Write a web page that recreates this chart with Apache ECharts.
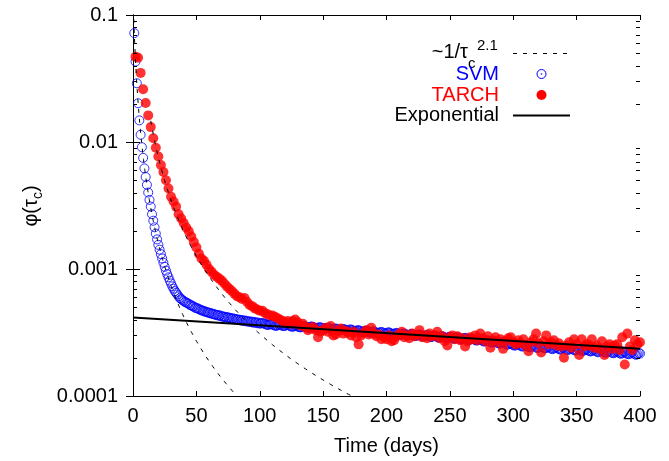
<!DOCTYPE html>
<html>
<head>
<meta charset="utf-8">
<script src="https://cdn.jsdelivr.net/npm/echarts/dist/echarts.min.js"></script>
<style>
  html, body { margin: 0; padding: 0; background: #fff; }
  #chart { width: 669px; height: 461px; }
</style>
</head>
<body>
<div id="chart"></div>
<script>
// Autocorrelation phi(tau_c) of the SVM and TARCH models versus lag in days.

// SVM: one value per day, starting at day 1
const svmFirstDay = 1, svmStep = 1;
const svmPhi = [
  7.2e-2, 4.3e-2, 2.9e-2, 2.02e-2, 1.48e-2, 1.14e-2, 9.1e-3, 7.5e-3, 6.2e-3, 5.3e-3,
  4.6e-3, 4.0e-3, 3.5e-3, 3.1e-3, 2.7e-3, 2.4e-3, 2.13e-3, 1.90e-3, 1.71e-3, 1.55e-3,
  1.42e-3, 1.31e-3, 1.21e-3, 1.12e-3, 1.04e-3, 9.7e-4, 9.1e-4, 8.6e-4, 8.1e-4, 7.7e-4,
  7.3e-4, 7.0e-4, 6.7e-4, 6.5e-4, 6.3e-4, 6.1e-4, 5.9e-4, 5.8e-4, 5.7e-4, 5.6e-4,
  5.50e-4, 5.46e-4, 5.36e-4, 5.33e-4, 5.20e-4, 5.19e-4, 5.08e-4, 5.07e-4, 4.95e-4, 4.93e-4,
  4.90e-4, 4.82e-4, 4.79e-4, 4.72e-4, 4.71e-4, 4.64e-4, 4.63e-4, 4.58e-4, 4.56e-4, 4.50e-4,
  4.51e-4, 4.44e-4, 4.45e-4, 4.39e-4, 4.38e-4, 4.33e-4, 4.35e-4, 4.28e-4, 4.30e-4, 4.22e-4,
  4.24e-4, 4.18e-4, 4.20e-4, 4.14e-4, 4.17e-4, 4.10e-4, 4.12e-4, 4.06e-4, 4.09e-4, 4.02e-4,
  4.04e-4, 3.98e-4, 4.01e-4, 3.95e-4, 3.98e-4, 3.91e-4, 3.95e-4, 3.89e-4, 3.92e-4, 3.86e-4,
  3.88e-4, 3.83e-4, 3.86e-4, 3.80e-4, 3.84e-4, 3.77e-4, 3.81e-4, 3.74e-4, 3.78e-4, 3.72e-4,
  3.73e-4, 3.75e-4, 3.74e-4, 3.70e-4, 3.66e-4, 3.63e-4, 3.64e-4, 3.67e-4, 3.69e-4, 3.66e-4,
  3.62e-4, 3.58e-4, 3.57e-4, 3.60e-4, 3.63e-4, 3.64e-4, 3.61e-4, 3.57e-4, 3.55e-4, 3.58e-4,
  3.62e-4, 3.63e-4, 3.60e-4, 3.56e-4, 3.52e-4, 3.51e-4, 3.54e-4, 3.58e-4, 3.57e-4, 3.53e-4,
  3.49e-4, 3.47e-4, 3.50e-4, 3.54e-4, 3.55e-4, 3.52e-4, 3.48e-4, 3.45e-4, 3.47e-4, 3.51e-4,
  3.53e-4, 3.50e-4, 3.46e-4, 3.42e-4, 3.41e-4, 3.44e-4, 3.48e-4, 3.47e-4, 3.43e-4, 3.39e-4,
  3.37e-4, 3.40e-4, 3.44e-4, 3.45e-4, 3.41e-4, 3.37e-4, 3.34e-4, 3.35e-4, 3.39e-4, 3.40e-4,
  3.37e-4, 3.33e-4, 3.30e-4, 3.31e-4, 3.35e-4, 3.37e-4, 3.34e-4, 3.30e-4, 3.27e-4, 3.29e-4,
  3.33e-4, 3.34e-4, 3.30e-4, 3.26e-4, 3.23e-4, 3.25e-4, 3.29e-4, 3.30e-4, 3.26e-4, 3.22e-4,
  3.19e-4, 3.21e-4, 3.25e-4, 3.27e-4, 3.24e-4, 3.19e-4, 3.16e-4, 3.18e-4, 3.22e-4, 3.23e-4,
  3.19e-4, 3.15e-4, 3.12e-4, 3.14e-4, 3.18e-4, 3.19e-4, 3.16e-4, 3.11e-4, 3.09e-4, 3.12e-4,
  3.16e-4, 3.17e-4, 3.13e-4, 3.09e-4, 3.06e-4, 3.08e-4, 3.12e-4, 3.14e-4, 3.10e-4, 3.06e-4,
  3.03e-4, 3.05e-4, 3.09e-4, 3.11e-4, 3.07e-4, 3.03e-4, 3.00e-4, 3.02e-4, 3.06e-4, 3.08e-4,
  3.05e-4, 3.00e-4, 2.97e-4, 2.99e-4, 3.03e-4, 3.05e-4, 3.02e-4, 2.97e-4, 2.94e-4, 2.96e-4,
  3.00e-4, 3.02e-4, 2.99e-4, 2.95e-4, 2.91e-4, 2.93e-4, 2.97e-4, 2.99e-4, 2.96e-4, 2.91e-4,
  2.88e-4, 2.90e-4, 2.94e-4, 2.96e-4, 2.92e-4, 2.88e-4, 2.85e-4, 2.87e-4, 2.91e-4, 2.93e-4,
  2.90e-4, 2.86e-4, 2.82e-4, 2.84e-4, 2.88e-4, 2.90e-4, 2.87e-4, 2.82e-4, 2.79e-4, 2.81e-4,
  2.85e-4, 2.87e-4, 2.84e-4, 2.80e-4, 2.76e-4, 2.78e-4, 2.82e-4, 2.84e-4, 2.80e-4, 2.76e-4,
  2.73e-4, 2.75e-4, 2.79e-4, 2.80e-4, 2.76e-4, 2.71e-4, 2.68e-4, 2.70e-4, 2.73e-4, 2.74e-4,
  2.70e-4, 2.66e-4, 2.63e-4, 2.65e-4, 2.69e-4, 2.70e-4, 2.66e-4, 2.61e-4, 2.58e-4, 2.60e-4,
  2.64e-4, 2.65e-4, 2.61e-4, 2.57e-4, 2.54e-4, 2.55e-4, 2.59e-4, 2.60e-4, 2.56e-4, 2.52e-4,
  2.49e-4, 2.51e-4, 2.55e-4, 2.56e-4, 2.52e-4, 2.48e-4, 2.45e-4, 2.47e-4, 2.51e-4, 2.52e-4,
  2.48e-4, 2.44e-4, 2.42e-4, 2.44e-4, 2.48e-4, 2.49e-4, 2.45e-4, 2.41e-4, 2.39e-4, 2.42e-4,
  2.46e-4, 2.47e-4, 2.43e-4, 2.39e-4, 2.37e-4, 2.39e-4, 2.43e-4, 2.44e-4, 2.40e-4, 2.36e-4,
  2.34e-4, 2.37e-4, 2.41e-4, 2.42e-4, 2.38e-4, 2.34e-4, 2.32e-4, 2.35e-4, 2.39e-4, 2.40e-4,
  2.36e-4, 2.32e-4, 2.30e-4, 2.33e-4, 2.37e-4, 2.38e-4, 2.34e-4, 2.30e-4, 2.28e-4, 2.31e-4,
  2.35e-4, 2.36e-4, 2.32e-4, 2.28e-4, 2.26e-4, 2.29e-4, 2.33e-4, 2.34e-4, 2.30e-4, 2.26e-4,
  2.24e-4, 2.27e-4, 2.30e-4, 2.31e-4, 2.27e-4, 2.23e-4, 2.21e-4, 2.24e-4, 2.28e-4, 2.29e-4,
  2.25e-4, 2.21e-4, 2.19e-4, 2.22e-4, 2.26e-4, 2.27e-4, 2.23e-4, 2.19e-4, 2.17e-4, 2.20e-4,
  2.24e-4, 2.25e-4, 2.21e-4, 2.17e-4, 2.15e-4, 2.18e-4, 2.22e-4, 2.23e-4, 2.19e-4, 2.15e-4,
  2.13e-4, 2.16e-4, 2.20e-4, 2.21e-4, 2.17e-4, 2.13e-4, 2.11e-4, 2.14e-4, 2.18e-4, 2.16e-4
];

// TARCH: one value every second day, starting at day 2
const tarchFirstDay = 2, tarchStep = 2;
const tarchPhi = [
  4.7e-2, 4.6e-2, 3.5e-2, 2.6e-2, 2.03e-2, 1.62e-2, 1.31e-2, 1.07e-2, 9.0e-3, 7.7e-3,
  6.6e-3, 5.8e-3, 5.0e-3, 4.3e-3, 3.7e-3, 3.4e-3, 3.1e-3, 2.7e-3, 2.5e-3, 2.3e-3,
  2.12e-3, 1.98e-3, 1.80e-3, 1.63e-3, 1.48e-3, 1.32e-3, 1.21e-3, 1.16e-3, 1.08e-3, 1.00e-3,
  9.5e-4, 9.0e-4, 8.7e-4, 8.4e-4, 8.1e-4, 7.7e-4, 7.3e-4, 7.0e-4, 6.7e-4, 6.4e-4,
  6.1e-4, 6.0e-4, 5.8e-4, 5.9e-4, 5.5e-4, 5.2e-4, 5.1e-4, 4.9e-4, 4.8e-4, 4.7e-4,
  4.7e-4, 4.5e-4, 4.4e-4, 4.3e-4, 4.3e-4, 4.2e-4, 4.1e-4, 4.0e-4, 3.9e-4, 3.8e-4,
  3.9e-4, 3.7e-4, 3.9e-4, 4.0e-4, 3.8e-4, 3.6e-4, 3.7e-4, 3.5e-4, 3.3e-4, 3.4e-4,
  3.5e-4, 3.3e-4, 2.9e-4, 3.2e-4, 3.3e-4, 3.45e-4, 3.2e-4, 3.55e-4, 3.0e-4, 3.05e-4,
  3.25e-4, 3.4e-4, 3.1e-4, 3.25e-4, 3.15e-4, 3.0e-4, 3.2e-4, 2.9e-4, 2.55e-4, 3.0e-4,
  3.15e-4, 3.3e-4, 3.05e-4, 3.45e-4, 3.1e-4, 2.95e-4, 3.05e-4, 2.8e-4, 2.9e-4, 2.8e-4,
  3.0e-4, 2.7e-4, 2.75e-4, 2.95e-4, 3.05e-4, 3.2e-4, 2.9e-4, 3.0e-4, 2.85e-4, 3.1e-4,
  2.95e-4, 3.05e-4, 3.3e-4, 2.9e-4, 3.0e-4, 2.85e-4, 3.1e-4, 2.95e-4, 3.0e-4, 3.2e-4,
  2.85e-4, 2.95e-4, 2.7e-4, 2.5e-4, 2.9e-4, 3.0e-4, 2.8e-4, 2.95e-4, 2.75e-4, 2.85e-4,
  2.45e-4, 2.7e-4, 2.9e-4, 2.8e-4, 3.0e-4, 2.75e-4, 3.1e-4, 2.85e-4, 2.7e-4, 2.95e-4,
  2.4e-4, 2.75e-4, 2.9e-4, 2.65e-4, 2.8e-4, 2.35e-4, 2.7e-4, 2.85e-4, 2.9e-4, 2.65e-4,
  2.55e-4, 2.75e-4, 2.6e-4, 2.8e-4, 2.5e-4, 2.25e-4, 2.65e-4, 2.8e-4, 3.1e-4, 2.6e-4,
  2.2e-4, 2.7e-4, 3.0e-4, 2.55e-4, 2.65e-4, 2.75e-4, 2.5e-4, 2.6e-4, 2.45e-4, 2.0e-4,
  2.5e-4, 2.65e-4, 2.4e-4, 2.8e-4, 2.55e-4, 2.1e-4, 2.8e-4, 2.45e-4, 2.55e-4, 2.5e-4,
  2.8e-4, 2.4e-4, 2.5e-4, 2.35e-4, 2.7e-4, 2.1e-4, 2.45e-4, 2.55e-4, 2.35e-4, 2.5e-4,
  2.55e-4, 2.3e-4, 2.9e-4, 1.77e-4, 3.1e-4, 2.45e-4, 2.3e-4, 2.75e-4, 2.55e-4, 2.65e-4
];

// Exponential tail fit: end points of the straight line on the log axis
const exponentialEnds = [[0, 4.15e-4], [400, 2.36e-4]];

// Power-law reference curves  amp / (tau + shift)^2.1
const powerLawExponent = 2.1;
const svmPowerLaw = { amp: 1.119, shift: 2.7, from: 0.3, to: 95 };
const tarchPowerLaw = { amp: 5.12, shift: 2.24, from: 14, to: 190 };

// Axis ticks
const xMin = 0, xMax = 400, xInterval = 50;
const yMin = 1e-4, yMax = 0.1;
const yTickLabels = ['0.0001', '0.001', '0.01', '0.1'];
const minorTickValues = [
  2e-4, 3e-4, 4e-4, 5e-4, 6e-4, 7e-4, 8e-4, 9e-4,
  2e-3, 3e-3, 4e-3, 5e-3, 6e-3, 7e-3, 8e-3, 9e-3,
  2e-2, 3e-2, 4e-2, 5e-2, 6e-2, 7e-2, 8e-2, 9e-2
];

const FONT = '"Liberation Sans", Arial, Helvetica, sans-serif';

function powerLawCurve(p) {
  const pts = [];
  for (let t = p.from; t <= p.to; t += 0.5) {
    pts.push([t, p.amp / Math.pow(t + p.shift, powerLawExponent)]);
  }
  return pts;
}

// Minor log ticks drawn inward from one frame edge
function minorTickSeries(edgeValue, dir) {
  return {
    type: 'custom', silent: true, clip: false, z: 10,
    data: minorTickValues.map(v => [edgeValue, v]),
    renderItem: function (params, api) {
      const p = api.coord([api.value(0), api.value(1)]);
      const y = Math.round(p[1]) + 0.5;
      return {
        type: 'line',
        shape: { x1: p[0], y1: y, x2: p[0] + dir * 4, y2: y },
        style: { stroke: '#000', lineWidth: 1 }
      };
    }
  };
}

const chart = echarts.init(document.getElementById('chart'), null, { renderer: 'canvas' });

const axisLineStyle = { show: true, lineStyle: { color: '#000', width: 1 } };

const option = {
  animation: false,
  backgroundColor: '#fff',
  grid: { left: 133, right: 29, top: 15, bottom: 64, containLabel: false },
  xAxis: [
    {
      type: 'value', position: 'bottom', min: xMin, max: xMax, interval: xInterval,
      axisLine: axisLineStyle,
      axisTick: { show: true, inside: true, length: 5, lineStyle: { color: '#000' } },
      axisLabel: { margin: 10, fontSize: 20, color: '#000', fontFamily: FONT },
      splitLine: { show: false },
      name: 'Time (days)', nameLocation: 'middle', nameGap: 40,
      nameTextStyle: { fontSize: 20, color: '#000', fontFamily: FONT }
    },
    {
      type: 'value', position: 'top', min: xMin, max: xMax, interval: xInterval,
      axisLine: axisLineStyle,
      axisTick: { show: true, inside: true, length: 5, lineStyle: { color: '#000' } },
      axisLabel: { show: false },
      splitLine: { show: false }
    }
  ],
  yAxis: [
    {
      type: 'log', logBase: 10, position: 'left', min: yMin, max: yMax,
      axisLine: axisLineStyle,
      axisTick: { show: true, inside: true, length: 7, lineStyle: { color: '#000' } },
      axisLabel: {
        margin: 15, fontSize: 20, color: '#000', fontFamily: FONT,
        formatter: function (v) { return yTickLabels[Math.round(Math.log10(v)) + 4]; }
      },
      splitLine: { show: false }
    },
    {
      type: 'log', logBase: 10, position: 'right', min: yMin, max: yMax,
      axisLine: axisLineStyle,
      axisTick: { show: true, inside: true, length: 7, lineStyle: { color: '#000' } },
      axisLabel: { show: false },
      splitLine: { show: false }
    }
  ],
  series: [
    Object.assign({ name: 'minor-left' }, minorTickSeries(xMin, 1)),
    Object.assign({ name: 'minor-right' }, minorTickSeries(xMax, -1)),
    {
      name: 'SVM', type: 'scatter', silent: true, clip: false, z: 3,
      data: svmPhi.map((v, i) => [svmFirstDay + i * svmStep, v]),
      symbol: 'circle', symbolSize: 9,
      itemStyle: { color: 'rgba(255,255,255,0)', borderColor: '#0000ff', borderWidth: 1 }
    },
    {
      name: 'TARCH', type: 'scatter', silent: true, clip: false, z: 4,
      data: tarchPhi.map((v, i) => [tarchFirstDay + i * tarchStep, v]),
      symbol: 'circle', symbolSize: 10,
      itemStyle: { color: '#ff0000' }
    },
    {
      name: 'power-svm', type: 'line', silent: true, z: 5, showSymbol: false, symbol: 'none',
      data: powerLawCurve(svmPowerLaw),
      lineStyle: { color: '#000', width: 1, type: [4, 6] }
    },
    {
      name: 'power-tarch', type: 'line', silent: true, z: 5, showSymbol: false, symbol: 'none',
      data: powerLawCurve(tarchPowerLaw),
      lineStyle: { color: '#000', width: 1, type: [4, 6] }
    },
    {
      name: 'Exponential', type: 'line', silent: true, z: 6, showSymbol: false, symbol: 'none',
      data: exponentialEnds,
      lineStyle: { color: '#000', width: 2 }
    }
  ],
  graphic: [
    // y-axis title, rotated
    {
      type: 'text', x: 31, y: 206, rotation: Math.PI / 2, silent: true,
      style: {
        text: '{a|φ(τ}{b|c}{a|)}',
        align: 'center', verticalAlign: 'middle',
        rich: {
          a: { fontSize: 20, fontFamily: FONT, fill: '#000', lineHeight: 28, verticalAlign: 'middle' },
          b: { fontSize: 14, fontFamily: FONT, fill: '#000', lineHeight: 28, verticalAlign: 'bottom' }
        }
      }
    },
    // legend
    { type: 'text', x: 468, y: 52, silent: true,
      style: { text: '~1/τ', font: '20px ' + FONT, fill: '#000', align: 'right', verticalAlign: 'middle' } },
    { type: 'text', x: 468, y: 64, silent: true,
      style: { text: 'c', font: '15px ' + FONT, fill: '#000', align: 'left', verticalAlign: 'middle' } },
    { type: 'text', x: 477, y: 46, silent: true,
      style: { text: '2.1', font: '15px ' + FONT, fill: '#000', align: 'left', verticalAlign: 'middle' } },
    { type: 'line', silent: true, shape: { x1: 513, y1: 53.5, x2: 570, y2: 53.5 },
      style: { stroke: '#000', lineWidth: 1, lineDash: [4, 6] } },
    { type: 'text', x: 499, y: 74, silent: true,
      style: { text: 'SVM', font: '20px ' + FONT, fill: '#0000ff', align: 'right', verticalAlign: 'middle' } },
    { type: 'circle', silent: true, shape: { cx: 541.5, cy: 74, r: 4.5 },
      style: { fill: 'none', stroke: '#0000ff', lineWidth: 1 } },
    { type: 'circle', silent: true, shape: { cx: 541.5, cy: 74, r: 0.8 },
      style: { fill: '#0000ff' } },
    { type: 'text', x: 499, y: 95, silent: true,
      style: { text: 'TARCH', font: '20px ' + FONT, fill: '#ff0000', align: 'right', verticalAlign: 'middle' } },
    { type: 'circle', silent: true, shape: { cx: 541.5, cy: 95, r: 5 },
      style: { fill: '#ff0000' } },
    { type: 'text', x: 499, y: 115.5, silent: true,
      style: { text: 'Exponential', font: '20px ' + FONT, fill: '#000', align: 'right', verticalAlign: 'middle' } },
    { type: 'line', silent: true, shape: { x1: 513, y1: 115.5, x2: 570, y2: 115.5 },
      style: { stroke: '#000', lineWidth: 2 } }
  ]
};

chart.setOption(option);
</script>
</body>
</html>
